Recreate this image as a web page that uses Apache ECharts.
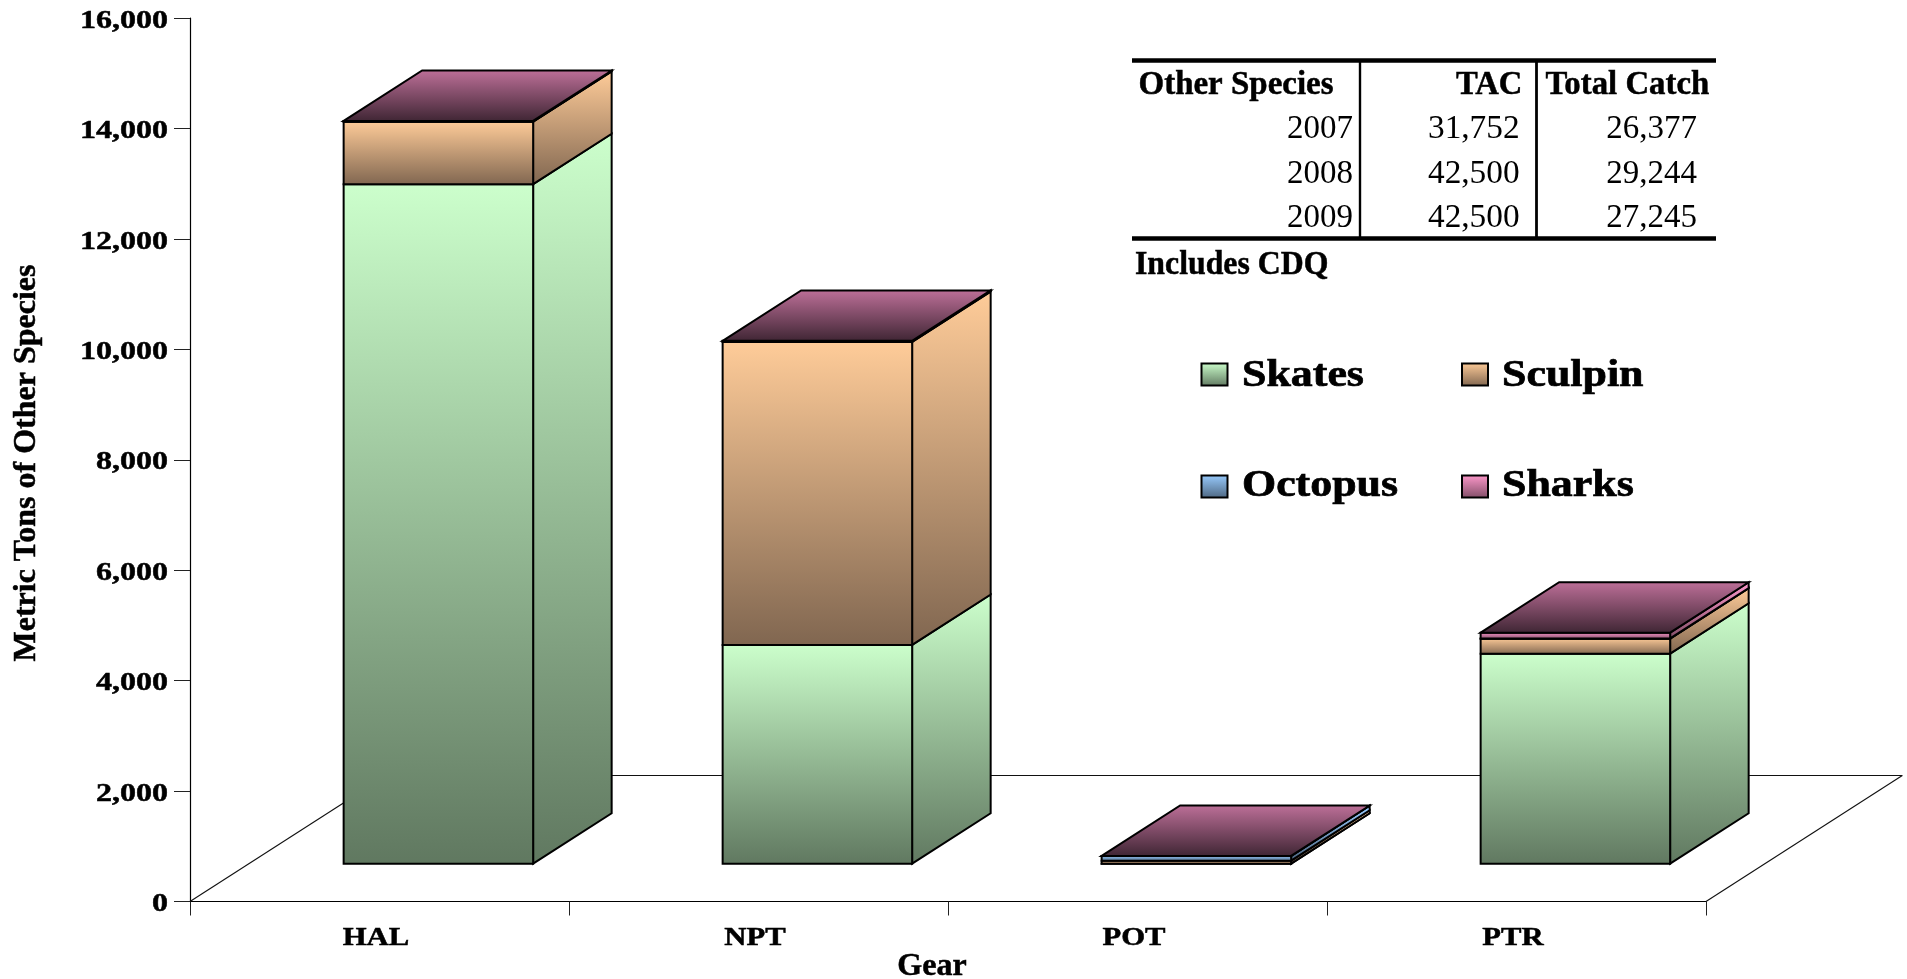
<!DOCTYPE html>
<html><head><meta charset="utf-8">
<style>html,body{margin:0;padding:0;background:#fff;overflow:hidden}#c{width:1907px;height:979px}</style>
<script src="https://cdn.jsdelivr.net/npm/echarts@6/dist/echarts.min.js"></script>
</head><body><div id="c"></div>
<script>
const categories = ['HAL','NPT','POT','PTR'];
const skates  = [12306, 3962,  1, 3804];
const sculpin = [ 1130, 5487, 54,  272];
const octopus = [    6,   10, 85,    3];
const sharks  = [   10,   10,  1,  105];
const yTicks  = [0,2000,4000,6000,8000,10000,12000,14000,16000];
const yTitle  = 'Metric Tons of Other Species';
const xTitle  = 'Gear';
const tableHeader = ['Other Species','TAC','Total Catch'];
const tableYears  = ['2007','2008','2009'];
const tableTAC    = ['31,752','42,500','42,500'];
const tableCatch  = ['26,377','29,244','27,245'];
const tableNote   = 'Includes CDQ';

const FONT = '"Liberation Serif","Times New Roman",serif';
const DX = 196.3, DY = 126;      // floor depth projection
const grad = (a,b) => new echarts.graphic.LinearGradient(0,0,0,1,[{offset:0,color:a},{offset:1,color:b}]);
const palette = {
  Skates:  ['#CCFFCC','#607860'],
  Sculpin: ['#FFCC99','#806650'],
  Octopus: ['#99CCFF','#4D6680'],
  Sharks:  ['#FF99CC','#804D66']
};
const stack = [['Skates',skates],['Sculpin',sculpin],['Octopus',octopus],['Sharks',sharks]];
const edge = {stroke:'#000', lineWidth:2, lineJoin:'miter'};
const heavy = {fill:'#000',stroke:'#000',lineWidth:0.5};

function barSeries(name, values, idx){
  const data = values.map((v,i)=>{
    let low = 0; for(let k=0;k<idx;k++) low += stack[k][1][i];
    return [i, low, low+v];
  });
  const c = palette[name];
  return {
    type:'custom', name, coordinateSystem:'cartesian2d', clip:false, silent:true, z:3,
    itemStyle:{color:c[0]},
    encode:{x:0,y:[1,2]}, data,
    renderItem(params, api){
      const i = api.value(0), band = api.size([1,0])[0];
      const lo = api.coord([i, api.value(1)]), hi = api.coord([i, api.value(2)]);
      const x0 = lo[0]-band*0.25+0.3*DX, x1 = lo[0]+band*0.25+0.3*DX;
      const yl = lo[1]-0.3*DY, yh = hi[1]-0.3*DY;
      const bx = 0.4*DX, by = 0.4*DY;
      const fill = grad(c[0],c[1]);
      const kids = [
        {type:'polygon',shape:{points:[[x1,yh],[x1+bx,yh-by],[x1+bx,yl-by],[x1,yl]]},style:Object.assign({fill},edge)},
        {type:'polygon',shape:{points:[[x0,yh],[x1,yh],[x1,yl],[x0,yl]]},style:Object.assign({fill},edge)}
      ];
      if(idx===stack.length-1){
        kids.push({type:'polygon',shape:{points:[[x0,yh],[x0+bx,yh-by],[x1+bx,yh-by],[x1,yh]]},
          style:Object.assign({fill:grad('#BE7099','#3E2533')},edge)});
      }
      return {type:'group',children:kids};
    }
  };
}

const floorSeries = {
  type:'custom', name:'floor', coordinateSystem:'cartesian2d', clip:false, silent:true, z:1,
  data:[[0,0]],
  renderItem(params, api){
    const g = params.coordSys, yb = g.y+g.height;
    const line = (a,b)=>({type:'line',shape:{x1:a[0],y1:a[1],x2:b[0],y2:b[1]},style:{stroke:'#111',lineWidth:1.1}});
    const fl=[g.x,yb], fr=[g.x+g.width,yb], bl=[g.x+DX,yb-DY], br=[g.x+g.width+DX,yb-DY];
    return {type:'group',children:[line(fl,bl),line(bl,br),line(fr,br)]};
  }
};

const yLabelSeries = {
  type:'custom', name:'yLabels', coordinateSystem:'cartesian2d', clip:false, silent:true, z:5,
  data:yTicks.map(v=>[0,v]),
  renderItem(params, api){
    const p = api.coord([0,api.value(1)]);
    return {type:'text',x:params.coordSys.x-22,y:p[1]+3,scaleX:1.23,
      style:Object.assign({text:api.value(1).toLocaleString('en-US'),font:'bold 26px '+FONT,align:'right',verticalAlign:'middle'},heavy)};
  }
};
const xLabelSeries = {
  type:'custom', name:'xLabels', coordinateSystem:'cartesian2d', clip:false, silent:true, z:5,
  data:categories.map((c,i)=>[i,0]),
  renderItem(params, api){
    const i = api.value(0), p = api.coord([i,0]);
    return {type:'text',x:p[0]-3.5,y:p[1]+37,scaleX:1.18,
      style:Object.assign({text:categories[i],font:'bold 26px '+FONT,align:'center',verticalAlign:'middle'},heavy)};
  }
};

const tableText = (text,x,y,align,bold,sx)=>({type:'text',x,y,scaleX:sx,z:10,
  style:Object.assign({text,font:(bold?'bold ':'')+'34px '+FONT,align,verticalAlign:'middle'},bold?heavy:{fill:'#000'})});
const legendText = (text,x,y)=>({type:'text',x,y,scaleX:1.155,z:10,
  style:Object.assign({text,font:'bold 38px '+FONT,align:'left',verticalAlign:'middle'},heavy,{lineWidth:0.7})});
const rule = (x1,y1,x2,y2,w)=>({type:'line',z:10,shape:{x1,y1,x2,y2},style:{stroke:'#000',lineWidth:w}});
const rowY = [129.5,174,218.5];
const graphics = [
  rule(1132,60.5,1716,60.5,4.5), rule(1132,238.4,1716,238.4,4.5),
  rule(1360,60,1360,238,2.4), rule(1536.5,60,1536.5,238,2.8),
  tableText(tableHeader[0],1138.5,85.5,'left',true,0.97),
  tableText(tableHeader[1],1522.4,85.5,'right',true,0.96),
  tableText(tableHeader[2],1545.5,85.5,'left',true,0.965),
  tableText(tableNote,1135,265.5,'left',true,0.935),
  legendText('Skates',1242,376.5), legendText('Octopus',1242,486.5),
  legendText('Sculpin',1502,376.5), legendText('Sharks',1502,486.5),
  {type:'text',x:27,y:463,rotation:Math.PI/2,z:10,
    style:Object.assign({text:yTitle,font:'bold 32px '+FONT,align:'center',verticalAlign:'middle'},heavy)},
  {type:'text',x:932,y:967,z:10,
    style:Object.assign({text:xTitle,font:'bold 32px '+FONT,align:'center',verticalAlign:'middle'},heavy)}
];
tableYears.forEach((t,i)=>graphics.push(tableText(t,1353,rowY[i],'right',false,0.97)));
tableTAC.forEach((t,i)=>graphics.push(tableText(t,1519.6,rowY[i],'right',false,0.98)));
tableCatch.forEach((t,i)=>graphics.push(tableText(t,1697,rowY[i],'right',false,0.97)));

const legendItem = name => ({name,icon:'rect',itemStyle:{color:grad(palette[name][0],palette[name][1]),borderColor:'#000',borderWidth:2}});
const legendCommon = {orient:'vertical',padding:0,itemWidth:26,itemHeight:22,itemGap:88,selectedMode:false,
  formatter:()=>'',textStyle:{fontSize:10,lineHeight:10,color:'#000'}};

const chart = echarts.init(document.getElementById('c'),null,{renderer:'canvas'});
chart.setOption({
  animation:false, backgroundColor:'#fff',
  grid:{left:190,top:18,width:1516,height:883.5},
  legend:[
    Object.assign({},legendCommon,{left:1200.5,top:362.5,data:[legendItem('Skates'),legendItem('Octopus')]}),
    Object.assign({},legendCommon,{left:1461,top:362.5,data:[legendItem('Sculpin'),legendItem('Sharks')]})
  ],
  xAxis:{type:'category',data:categories,boundaryGap:true,
    axisLine:{lineStyle:{color:'#000',width:1.2}},
    axisTick:{show:true,alignWithLabel:false,length:14,lineStyle:{color:'#222',width:1}},
    axisLabel:{show:false},splitLine:{show:false}},
  yAxis:{type:'value',min:0,max:16000,interval:2000,
    axisLine:{show:true,lineStyle:{color:'#000',width:1.2}},
    axisTick:{show:true,length:16,lineStyle:{color:'#222',width:1}},
    axisLabel:{show:false},splitLine:{show:false}},
  graphic:{elements:graphics},
  series:[floorSeries].concat(stack.map((s,i)=>barSeries(s[0],s[1],i)),[yLabelSeries,xLabelSeries])
});
</script></body></html>
